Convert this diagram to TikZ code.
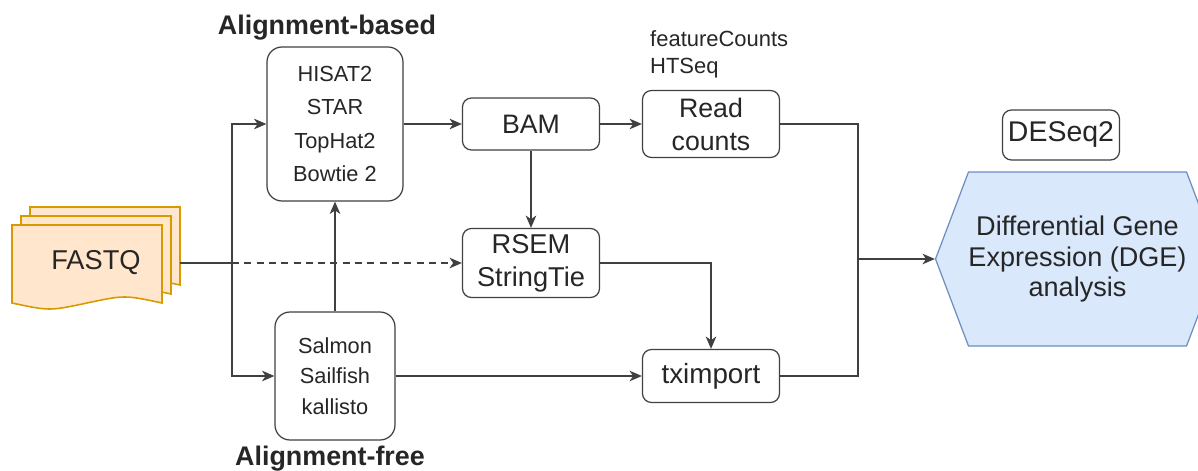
\documentclass[tikz,border=0pt]{standalone}
\usepackage{fontspec}
\setmainfont{Liberation Sans}
\usetikzlibrary{arrows.meta,positioning,shapes.symbols}
\definecolor{docfill}{HTML}{FFE6CC}
\definecolor{docline}{HTML}{D79B00}
\definecolor{dgefill}{HTML}{DAE8FC}
\definecolor{dgeline}{HTML}{6C8EBF}
\newcommand{\fsz}[2]{\fontsize{#1}{#2}\selectfont}

\begin{document}
\begin{tikzpicture}[font=\fsz{15.5}{18},text=black!85,
box/.style={draw=black!75,fill=white,rounded corners=0.18cm,align=center,inner sep=0pt,line width=0.7pt},
tool/.style={box,rounded corners=0.3cm,font=\fsz{12.4}{18.8}},
file/.style={box,minimum width=2.74cm,font=\fsz{15.2}{18.8}},
doc/.style={fill=docfill,draw=docline,line width=0.9pt},
lbl/.style={font=\bfseries\fsz{15.3}{18}},
arr/.style={-{Stealth[length=7pt,width=6pt,inset=2pt]},line width=0.7pt,draw=black!75},
line/.style={line width=0.7pt,draw=black!75}]
\useasboundingbox (0,0) rectangle (23.96,9.4);
% stacked FASTQ pages
\foreach \d in {0.36,0.18,0}
  \draw[doc,shift={(\d,\d)}] (0.24,3.34) -- (0.24,4.90) -- (3.24,4.90) -- (3.24,3.34)
    .. controls (2.49,3.50) .. (1.74,3.34) .. controls (0.99,3.18) .. (0.24,3.34) -- cycle;
\node[minimum width=3.36cm,inner sep=0pt] (fastq) at (1.92,4.14) {FASTQ};
\node[tool,minimum width=2.72cm,minimum height=3.08cm] (align) at (6.70,6.92) {HISAT2\\STAR\\TopHat2\\Bowtie 2};
\node[tool,minimum width=2.40cm,minimum height=2.56cm,font=\fsz{12.4}{17.4}] (free) at (6.70,1.88) {Salmon\\Sailfish\\kallisto};
\node[lbl] (basedlbl) at (6.54,8.84) {Alignment-based};
\node[lbl] (freelbl) at (6.60,0.22) {Alignment-free};
\node[file,minimum height=1.04cm] (bam) at (10.62,6.92) {BAM};
\node[file,minimum height=1.34cm] (reads) at (14.22,6.92) {Read\\counts};
\node[anchor=west,align=left,font=\fsz{12.5}{15.4}] (counters) at (12.88,8.31) {featureCounts\\HTSeq};
\node[file,minimum height=1.38cm,font=\fsz{15.5}{18.8}] (rsem) at (10.62,4.14) {RSEM\\StringTie};
\node[file,minimum height=1.06cm,font=\fsz{15.8}{18}] (txi) at (14.22,1.88) {tximport};
\node[file,minimum width=2.34cm,minimum height=1.0cm,font=\fsz{16.2}{18}] (deseq) at (21.22,6.70) {DESeq2};
\node[signal,signal to=west and east,signal pointer angle=138.5,fill=dgefill,draw=dgeline,line width=0.7pt,
  minimum width=5.50cm,minimum height=3.48cm,inner sep=0pt,align=center,font=\fsz{15.4}{17.6}] (dge) at (21.55,4.22)
  {Differential Gene\\Expression (DGE)\\analysis};
\coordinate (split) at (4.64,4.14);
\coordinate (merge) at (17.16,4.22);
\draw[line] (fastq.east)--(split);
\draw[arr] (split)|-(align.west); \draw[arr] (split)|-(free.west);
\draw[arr,dash pattern={on 4pt off 3pt}] (split)--(rsem.west);
\draw[arr] (free.north)--(align.south);
\draw[arr] (align.east)--(bam.west); \draw[arr] (bam.east)--(reads.west);
\draw[arr] (bam.south)--(rsem.north);
\draw[arr] (rsem.east)-|(txi.north); \draw[arr] (free.east)--(txi.west);
\draw[line] (reads.east)-|(merge); \draw[line] (txi.east)-|(merge);
\draw[arr] (merge)--(dge.west);
\end{tikzpicture}
\end{document}
